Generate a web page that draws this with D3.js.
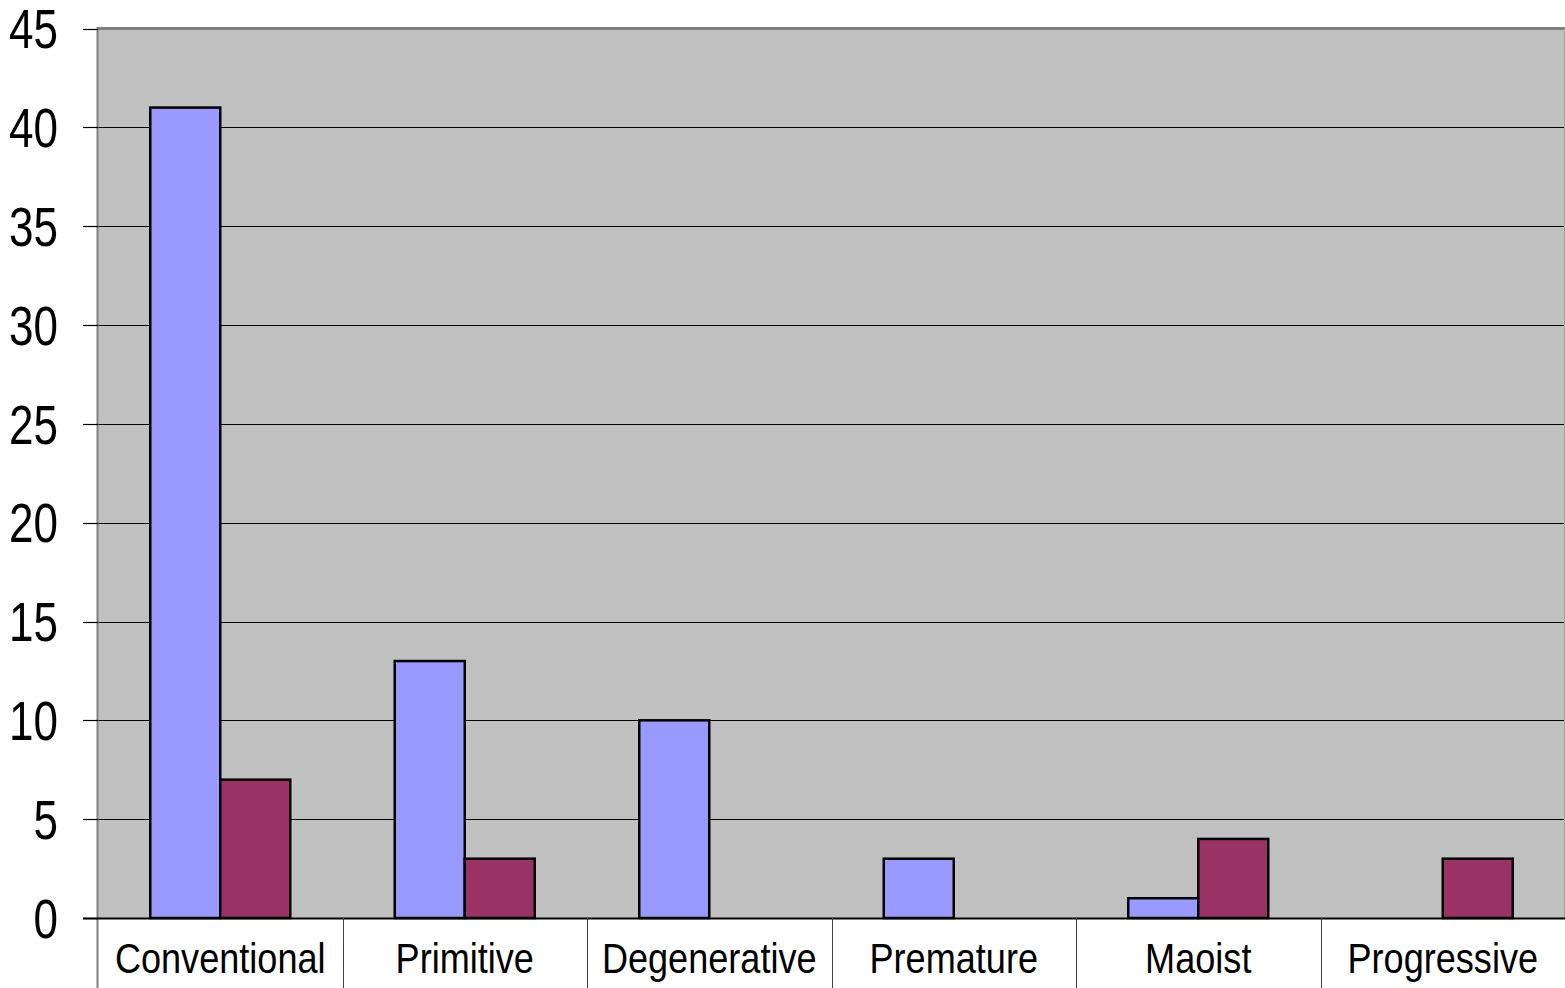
<!DOCTYPE html>
<html><head><meta charset="utf-8">
<script src="https://cdn.jsdelivr.net/npm/d3@7"></script>
<style>html,body{margin:0;padding:0;background:#fff;}svg{display:block;}</style>
</head><body>
<script>
const categories = ["Conventional","Primitive","Degenerative","Premature","Maoist","Progressive"];
const seriesA = [41,13,10,3,1,0];
const seriesB = [7,3,0,0,4,3];
const yTicks = [0,5,10,15,20,25,30,35,40,45];

const W = 1565, H = 988;
const L = 98, R = 1565, T = 28.5, B = 918;
const svg = d3.select("body").append("svg").attr("width", W).attr("height", H);

const x = d3.scaleBand().domain(categories).range([L, R]).paddingInner(0).paddingOuter(0);
const y = d3.scaleLinear().domain([0,45]).range([B, T]);
const barW = 70;

svg.append("rect").attr("x", L).attr("y", T).attr("width", R - L).attr("height", B - T).attr("fill", "#C0C0C0");

// gridlines
svg.append("g").selectAll("line").data(yTicks.filter(d => d > 0 && d < 45)).join("line")
  .attr("x1", L).attr("x2", R).attr("y1", d => Math.round(y(d)) + 0.5).attr("y2", d => Math.round(y(d)) + 0.5)
  .attr("stroke", "#000").attr("stroke-width", 1.2);

// top border
svg.append("line").attr("x1", L).attr("x2", R).attr("y1", T).attr("y2", T).attr("stroke", "#808080").attr("stroke-width", 3);
svg.append("line").attr("x1", R - 0.5).attr("x2", R - 0.5).attr("y1", T).attr("y2", B).attr("stroke", "#a0a0a0").attr("stroke-width", 1);

// bars
const groups = svg.append("g").selectAll("g").data(categories).join("g");
groups.append("rect")
  .attr("x", d => x(d) + x.bandwidth()/2 - barW)
  .attr("y", (d,i) => y(seriesA[i]))
  .attr("width", barW)
  .attr("height", (d,i) => B - y(seriesA[i]))
  .attr("fill", "#9999FF").attr("stroke", "#000").attr("stroke-width", 2.5)
  .attr("display", (d,i) => seriesA[i] > 0 ? null : "none");
groups.append("rect")
  .attr("x", d => x(d) + x.bandwidth()/2)
  .attr("y", (d,i) => y(seriesB[i]))
  .attr("width", barW)
  .attr("height", (d,i) => B - y(seriesB[i]))
  .attr("fill", "#993366").attr("stroke", "#000").attr("stroke-width", 2.5)
  .attr("display", (d,i) => seriesB[i] > 0 ? null : "none");

// left axis line
svg.append("line").attr("x1", L - 0.5).attr("x2", L - 0.5).attr("y1", T - 1.5).attr("y2", H).attr("stroke", "#808080").attr("stroke-width", 2);

// y ticks
svg.append("g").selectAll("line").data(yTicks).join("line")
  .attr("x1", 83).attr("x2", L).attr("y1", d => Math.round(y(d)) + 0.5).attr("y2", d => Math.round(y(d)) + 0.5)
  .attr("stroke", "#000").attr("stroke-width", 1.2);

// x axis
svg.append("line").attr("x1", 83).attr("x2", R).attr("y1", B + 0.5).attr("y2", B + 0.5).attr("stroke", "#000").attr("stroke-width", 2);
svg.append("g").selectAll("line").data(categories.slice(1)).join("line")
  .attr("x1", d => Math.round(x(d)) + 0.5).attr("x2", d => Math.round(x(d)) + 0.5)
  .attr("y1", B).attr("y2", H).attr("stroke", "#404040").attr("stroke-width", 1);

// y labels
svg.append("g").selectAll("text").data(yTicks).join("text")
  .attr("transform", d => `translate(58,${y(d) + 1}) scale(0.8,1)`)
  .attr("text-anchor", "end").attr("dominant-baseline", "central")
  .attr("font-family", "Liberation Sans, Arial, sans-serif").attr("font-size", 55)
  .attr("fill", "#000").text(d => d);

// x labels
svg.append("g").selectAll("text").data(categories).join("text")
  .attr("transform", d => `translate(${x(d) + x.bandwidth()/2},973) scale(0.84,1)`)
  .attr("text-anchor", "middle")
  .attr("font-family", "Liberation Sans, Arial, sans-serif").attr("font-size", 43)
  .attr("fill", "#000").text(d => d);
</script>
</body></html>
